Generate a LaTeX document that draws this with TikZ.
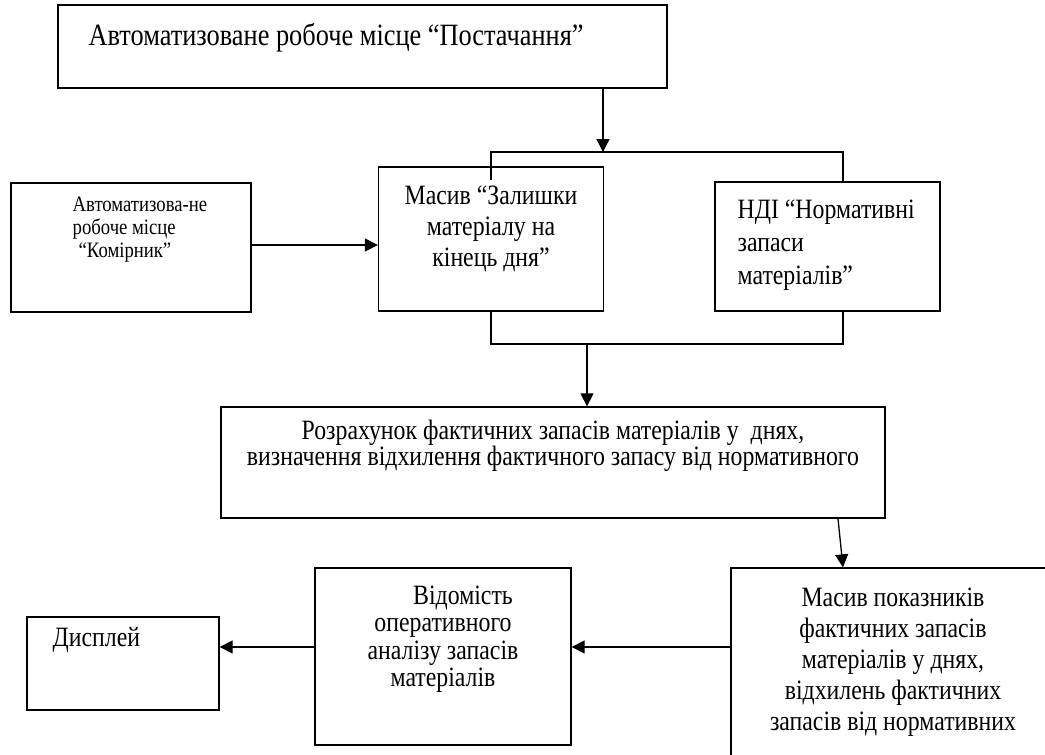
\documentclass[tikz,border=0pt]{standalone}
\usepackage{fontspec}
\setmainfont{Liberation Serif}[FakeStretch=0.85]
\usetikzlibrary{arrows.meta}

\tikzset{
  blok/.style={draw, rectangle, line width=1.3pt, inner sep=0pt},
  napys/.style={inner sep=0pt, font=\fontsize{28}{31}\selectfont},
  dribnyi/.style={inner sep=0pt, font=\fontsize{22}{23}\selectfont},
}

\begin{document}
\begin{tikzpicture}[x=1pt,y=-1pt,>={Triangle[length=13pt,width=13pt]},line width=1.3pt]
  \clip (0,0) rectangle (1045,755);
  % bloky
  \node[blok, minimum width=609pt, minimum height=83pt] (post) at (362.5,46.5) {};
  \node[blok, minimum width=240pt, minimum height=129pt] (komir) at (131,247.5) {};
  \node[blok, minimum width=225pt, minimum height=144pt] (masyv) at (491,239) {};
  \node[blok, minimum width=225pt, minimum height=129pt] (ndi) at (827.5,246.5) {};
  \node[blok, minimum width=664pt, minimum height=111pt] (rozr) at (553,462.5) {};
  \node[blok, minimum width=330pt, minimum height=200pt] (pokaz) at (896,668) {};
  \node[blok, minimum width=256pt, minimum height=177pt] (vidom) at (443,656.5) {};
  \node[blok, minimum width=192pt, minimum height=93pt] (dysp) at (123,663.5) {};

  % napysy
  \node[napys, anchor=west, font=\fontsize{31}{31}\selectfont] (post-t) at (88,38) {Автоматизоване робоче місце “Постачання”};
  \node[dribnyi, align=left, anchor=north west] (komir-t) at (72,196) {Автоматизова-не\\робоче місце\\\hspace*{6pt}“Комірник”};
  \node[napys, align=center] (masyv-t) at (491,229) {Масив “Залишки\\матеріалу на\\кінець дня”};
  \node[napys, align=left, anchor=west, font=\fontsize{28}{33}\selectfont] (ndi-t) at (737,245) {НДІ “Нормативні\\запаси\\матеріалів”};
  \node[napys, align=center, font=\fontsize{28}{26}\selectfont] (rozr-t) at (553,445.5) {Розрахунок фактичних запасів матеріалів у~ днях,\\визначення відхилення фактичного запасу від нормативного};
  \node[napys, align=center] (pokaz-t) at (893,662.5) {Масив показників\\фактичних запасів\\матеріалів у днях,\\відхилень фактичних\\запасів від нормативних};
  \node[napys, align=center, font=\fontsize{28}{27.5}\selectfont] (vidom-t) at (443,639) {\hspace*{40pt}Відомість\\оперативного\\аналізу запасів\\матеріалів};
  \node[napys, anchor=west] (dysp-t) at (52,640) {Дисплей};

  % zvjazky
  \coordinate (shyna) at (603,152);
  \coordinate (shyna-l) at (491,152);
  \coordinate (shyna-r) at (843,152);
  \coordinate (vhid-l) at (491,180);
  \coordinate (niz-l) at (491,344);
  \coordinate (niz-r) at (843,344);
  \coordinate (niz) at (587,344);

  \draw[->] (post.south -| shyna) -- (shyna);
  \draw (vhid-l) -- (shyna-l) -- (shyna-r) -- (ndi.north -| shyna-r);
  \draw[->] (komir.east |- 0,245) -- (masyv.west |- 0,245);
  \draw (masyv.south -| niz-l) -- (niz-l) -- (niz-r) -- (ndi.south -| niz-r);
  \draw[->] (niz) -- (rozr.north -| niz);
  \draw[->] (rozr.south -| 838,0) -- (pokaz.north -| 843,0);
  \draw[->] (pokaz.west |- 0,647) -- (vidom.east |- 0,647);
  \draw[->] (vidom.west |- 0,647) -- (dysp.east |- 0,647);
\end{tikzpicture}
\end{document}
